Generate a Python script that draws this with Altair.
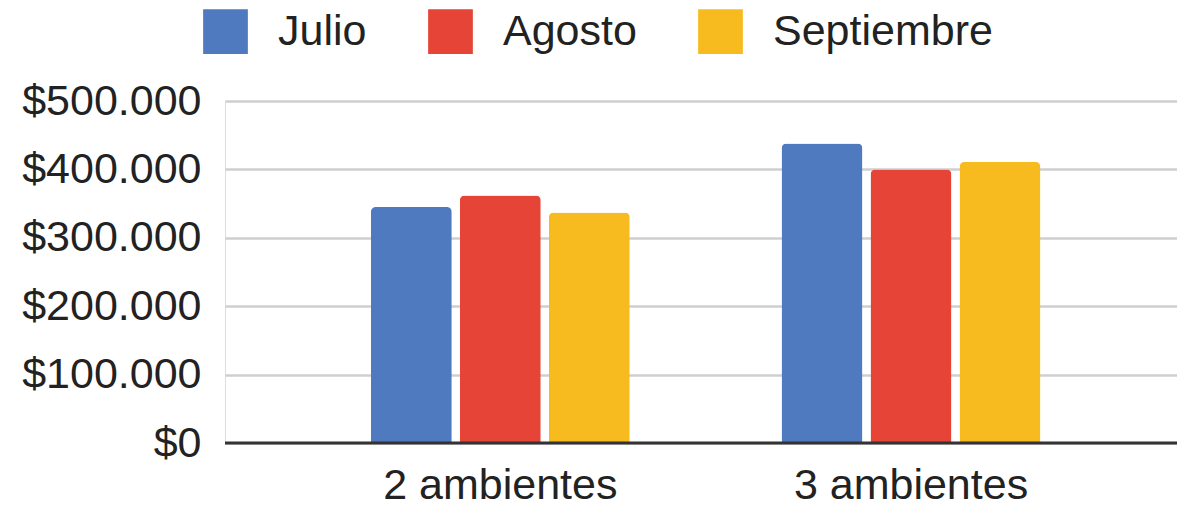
import altair as alt
import pandas as pd

# Monthly prices by apartment size
categorias = ["2 ambientes", "3 ambientes"]
meses = ["Julio", "Agosto", "Septiembre"]
julio = [345000, 438000]
agosto = [362000, 400000]
septiembre = [337000, 411000]
colores = ["#4F7AC0", "#E54436", "#F7BB1F"]
ticks_y = [0, 100000, 200000, 300000, 400000, 500000]

rows = []
for mes, serie in zip(meses, [julio, agosto, septiembre]):
    for cat, val in zip(categorias, serie):
        rows.append({"categoria": cat, "mes": mes, "precio": val})
df = pd.DataFrame(rows)

FONT = "Liberation Sans"
FS = 43
W, H = 952, 342

bars = alt.Chart(df).mark_bar(
    cornerRadiusTopLeft=5, cornerRadiusTopRight=5
).encode(
    x=alt.X(
        "categoria:N",
        sort=categorias,
        scale=alt.Scale(paddingInner=0.35, paddingOuter=0.334, align=0.517),
        axis=alt.Axis(
            title=None, labelAngle=0, ticks=False, domain=False,
            labelFont=FONT, labelFontSize=FS, labelColor="#222222",
            labelPadding=21, labelLimit=0,
        ),
    ),
    xOffset=alt.XOffset(
        "mes:N", sort=meses,
        scale=alt.Scale(paddingInner=0.09, paddingOuter=0.045),
    ),
    y=alt.Y(
        "precio:Q",
        scale=alt.Scale(domain=[0, 500000], nice=False),
        axis=alt.Axis(
            title=None, values=ticks_y, ticks=False, domain=False,
            labelExpr="'$' + replace(format(datum.value, ','), ',', '.')",
            labelFont=FONT, labelFontSize=FS, labelColor="#222222",
            labelPadding=24, labelLimit=0,
            gridColor="#CFCFCF", gridWidth=2.5,
        ),
    ),
    color=alt.Color(
        "mes:N",
        scale=alt.Scale(domain=meses, range=colores),
        legend=alt.Legend(
            title=None, orient="none", direction="horizontal",
            legendX=-22, legendY=-92, padding=0,
            symbolType="square", symbolSize=2000, symbolStrokeWidth=0,
            symbolOpacity=1,
            labelFont=FONT, labelFontSize=FS, labelColor="#222222",
            labelOffset=30, columnPadding=61, labelLimit=0,
        ),
    ),
)

baseline = alt.Chart(pd.DataFrame({"precio": [0]})).mark_rule(
    color="#333333", strokeWidth=3
).encode(y="precio:Q", x=alt.value(0), x2=alt.value(W))

chart = alt.layer(bars, baseline).properties(
    width=W, height=H,
    autosize=alt.AutoSizeParams(type="none"),
    padding={"left": 225, "top": 101, "right": 0, "bottom": 66},
).configure_view(stroke=None).configure(background="white")

chart.save("out.html", embed_options={"renderer": "svg", "actions": False})
